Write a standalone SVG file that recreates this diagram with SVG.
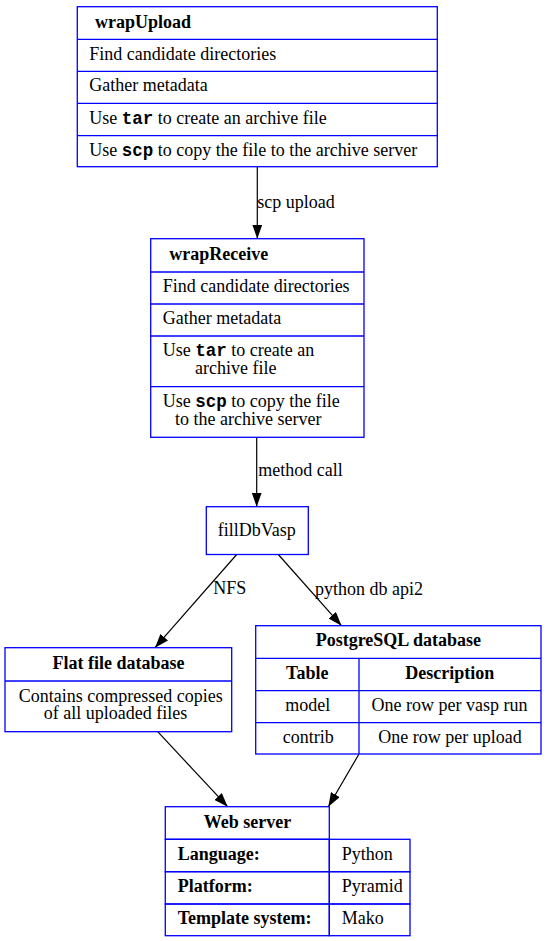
<svg xmlns="http://www.w3.org/2000/svg" width="547" height="941" viewBox="0 0 547 941">
<style>
.box{fill:none;stroke:#0000ff;stroke-width:1.3}
.t{font-family:"Liberation Serif","Times New Roman",serif;font-size:18px;fill:#000}
.b{font-weight:bold}
.m{font-family:"Liberation Mono","Courier New",monospace;font-weight:bold;font-size:17.5px}
.c{text-anchor:middle}
.e{fill:none;stroke:#000;stroke-width:1.2}
</style>
<defs>
<marker id="ah" viewBox="0 0 14 10" refX="14" refY="5" markerWidth="14" markerHeight="10" markerUnits="userSpaceOnUse" orient="auto">
<path d="M0,0 L14,5 L0,10 z" fill="#000"/>
</marker>
</defs>
<rect width="547" height="941" fill="#fff"/>

<g id="connectors">
<path class="e" d="M257.3,167 L257.3,238.7" marker-end="url(#ah)"/>
<text class="t" x="257.3" y="207.5">scp upload</text>
<path class="e" d="M256.7,437.3 L256.7,506.7" marker-end="url(#ah)"/>
<text class="t" x="258.3" y="476.3">method call</text>
<path class="e" d="M236.7,554.5 L155,647.7" marker-end="url(#ah)"/>
<text class="t" x="213.3" y="593.5">NFS</text>
<path class="e" d="M278.3,554.5 L341.5,625.7" marker-end="url(#ah)"/>
<text class="t" x="315" y="594.5">python db api2</text>
<path class="e" d="M157.7,731.7 L227.7,806.7" marker-end="url(#ah)"/>
<path class="e" d="M359,754 L328.3,806.7" marker-end="url(#ah)"/>
</g>

<g id="wrapUpload">
<rect class="box" x="77.3" y="6.7" width="360" height="160"/>
<line class="box" x1="77.3" y1="39.3" x2="437.3" y2="39.3"/>
<line class="box" x1="77.3" y1="71.3" x2="437.3" y2="71.3"/>
<line class="box" x1="77.3" y1="103.3" x2="437.3" y2="103.3"/>
<line class="box" x1="77.3" y1="135.7" x2="437.3" y2="135.7"/>
<text class="t b" x="95" y="27.8">wrapUpload</text>
<text class="t" x="89.3" y="59.5">Find candidate directories</text>
<text class="t" x="89.3" y="91">Gather metadata</text>
<text class="t" x="89.3" y="123.5">Use <tspan class="m">tar</tspan> to create an archive file</text>
<text class="t" x="89.3" y="155.5">Use <tspan class="m">scp</tspan> to copy the file to the archive server</text>
</g>

<g id="wrapReceive">
<rect class="box" x="150.7" y="238.7" width="213.3" height="198.6"/>
<line class="box" x1="150.7" y1="272" x2="364" y2="272"/>
<line class="box" x1="150.7" y1="304" x2="364" y2="304"/>
<line class="box" x1="150.7" y1="336" x2="364" y2="336"/>
<line class="box" x1="150.7" y1="386.7" x2="364" y2="386.7"/>
<text class="t b" x="169.3" y="259.5">wrapReceive</text>
<text class="t" x="162.7" y="291.8">Find candidate directories</text>
<text class="t" x="162.7" y="323.5">Gather metadata</text>
<text class="t" x="162.7" y="355.8">Use <tspan class="m">tar</tspan> to create an</text>
<text class="t" x="195" y="374.2">archive file</text>
<text class="t" x="162.7" y="406.8">Use <tspan class="m">scp</tspan> to copy the file</text>
<text class="t" x="175" y="425.2">to the archive server</text>
</g>

<g id="fillDbVasp">
<rect class="box" x="206.3" y="506.7" width="102" height="47.8"/>
<text class="t" x="217.7" y="536.2">fillDbVasp</text>
</g>

<g id="flatFile">
<rect class="box" x="5" y="647.7" width="226.7" height="84"/>
<line class="box" x1="5" y1="681" x2="231.7" y2="681"/>
<text class="t b c" x="118.5" y="668.5">Flat file database</text>
<text class="t c" x="120.8" y="701.8">Contains compressed copies</text>
<text class="t c" x="115.5" y="718.5">of all uploaded files</text>
</g>

<g id="postgres">
<rect class="box" x="255.7" y="625.7" width="285.3" height="128.3"/>
<line class="box" x1="255.7" y1="658.3" x2="541" y2="658.3"/>
<line class="box" x1="255.7" y1="690.7" x2="541" y2="690.7"/>
<line class="box" x1="255.7" y1="722.7" x2="541" y2="722.7"/>
<line class="box" x1="359" y1="658.3" x2="359" y2="754"/>
<text class="t b c" x="398.3" y="646">PostgreSQL database</text>
<text class="t b c" x="307.3" y="678.5">Table</text>
<text class="t b c" x="449.7" y="678.5">Description</text>
<text class="t c" x="307.8" y="710.8">model</text>
<text class="t c" x="449.5" y="710.8">One row per vasp run</text>
<text class="t c" x="308.3" y="742.8">contrib</text>
<text class="t c" x="450" y="742.8">One row per upload</text>
</g>

<g id="webServer">
<rect class="box" x="165.3" y="806.7" width="164" height="32.6"/>
<rect class="box" x="165.3" y="839.3" width="164" height="32.4"/>
<rect class="box" x="165.3" y="871.7" width="164" height="32.3"/>
<rect class="box" x="165.3" y="904" width="164" height="31.7"/>
<rect class="box" x="329.3" y="839.3" width="80.7" height="32.4"/>
<rect class="box" x="329.3" y="871.7" width="80.7" height="32.3"/>
<rect class="box" x="329.3" y="904" width="80.7" height="31.7"/>
<text class="t b c" x="247.5" y="827.5">Web server</text>
<text class="t b" x="177.7" y="859.5">Language:</text>
<text class="t b" x="177.7" y="891.8">Platform:</text>
<text class="t b" x="177.7" y="923.5">Template system:</text>
<text class="t" x="341.7" y="859.5">Python</text>
<text class="t" x="341.7" y="891.8">Pyramid</text>
<text class="t" x="341.7" y="923.5">Mako</text>
</g>
</svg>
